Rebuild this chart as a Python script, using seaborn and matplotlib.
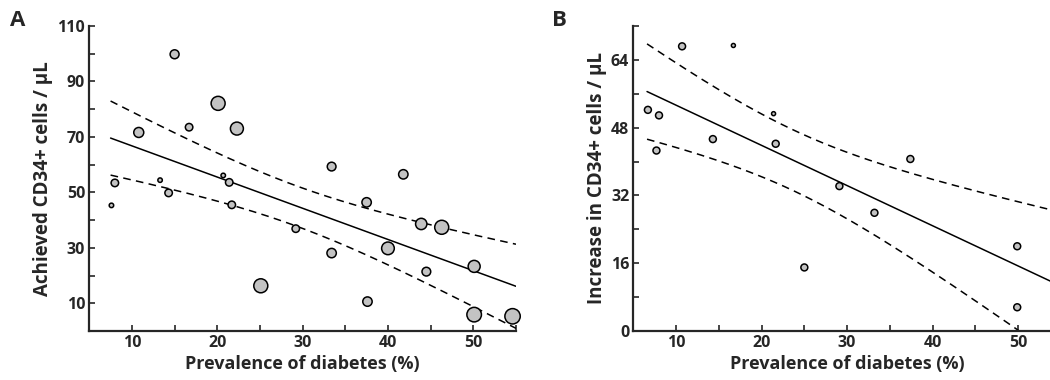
import numpy as np
import pandas as pd
import seaborn as sns
import matplotlib
matplotlib.use("Agg")
import matplotlib.pyplot as plt

# ---------------- data ----------------
# Panel A: prevalence of diabetes (%) vs achieved CD34+ cells / uL, weight = study size
a_prev = [15.0, 20.1, 22.3, 16.7, 10.8, 8.0, 13.3, 14.3, 20.7, 21.4, 7.6, 21.7, 29.2,
          33.4, 33.4, 25.1, 37.5, 37.6, 41.8, 43.9, 46.3, 40.0, 44.5, 50.1, 50.1, 54.6]
a_cd34 = [99.8, 82.1, 73.0, 73.5, 71.6, 53.4, 54.4, 49.8, 56.1, 53.6, 45.3, 45.5, 36.9,
          59.3, 28.1, 16.3, 46.4, 10.6, 56.5, 38.6, 37.4, 29.8, 21.4, 23.3, 5.9, 5.3]
a_weight = [20, 49, 42, 14, 25, 14, 5, 14, 5, 14, 5, 14, 14,
            19, 22, 49, 22, 22, 22, 32, 49, 40, 19, 36, 53, 59]

# Panel B: prevalence of diabetes (%) vs increase in CD34+ cells / uL
b_prev = [10.7, 16.7, 6.7, 8.0, 7.7, 14.3, 21.4, 21.65, 37.4, 29.1, 33.2, 25.0, 49.9, 49.9]
b_incr = [67.2, 67.4, 52.2, 50.9, 42.6, 45.3, 51.3, 44.2, 40.6, 34.2, 27.9, 15.0, 20.0, 5.6]
b_weight = [12, 4, 12, 12, 12, 12, 4, 12, 12, 12, 12, 12, 12, 12]

a_yticks = [10, 30, 50, 70, 90, 110]
b_yticks = [0, 16, 32, 48, 64]
x_ticks = [10, 20, 30, 40, 50]

T95 = {24: 2.064, 12: 2.179}  # two-sided 95% t quantiles

# ---------------- style ----------------
sns.set_style("ticks")
plt.rcParams["font.family"] = ["Open Sans", "DejaVu Sans"]
plt.rcParams["font.weight"] = "bold"
plt.rcParams["axes.labelweight"] = "bold"

fig = plt.figure(figsize=(10.5, 3.8), dpi=100)
axA = fig.add_axes([0.085, 0.129, 0.4064, 0.8026])
axB = fig.add_axes([0.6032, 0.129, 0.4071, 0.8026])


def fit_lines(ax, x, y, xmax):
    x = np.asarray(x, float)
    y = np.asarray(y, float)
    n = len(x)
    b1, b0 = np.polyfit(x, y, 1)
    resid = y - (b0 + b1 * x)
    s = np.sqrt(np.sum(resid ** 2) / (n - 2))
    sxx = np.sum((x - x.mean()) ** 2)
    xs = np.linspace(x.min() - 0.1, xmax, 200)
    yh = b0 + b1 * xs
    half = T95[n - 2] * s * np.sqrt(1.0 / n + (xs - x.mean()) ** 2 / sxx)
    ax.plot(xs, yh, color="black", lw=1.1, zorder=2)
    ax.plot(xs, yh + half, color="black", lw=1.1, ls=(0, (5, 3.5)), zorder=2)
    ax.plot(xs, yh - half, color="black", lw=1.1, ls=(0, (5, 3.5)), zorder=2)


def style_axis(ax, ylim, yticks, ymajor_step, ylabel):
    ax.set_xlim(5, 55)
    ax.set_ylim(*ylim)
    ax.set_xticks(np.arange(5, 56, 5), minor=True)
    ax.set_xticks(x_ticks)
    ax.set_yticks(np.arange(ylim[0], ylim[1] + 0.01, ymajor_step), minor=True)
    ax.set_yticks(yticks)
    for sp in ["top", "right"]:
        ax.spines[sp].set_visible(False)
    for sp in ["left", "bottom"]:
        ax.spines[sp].set_linewidth(1.6)
    ax.tick_params(which="both", direction="in", width=1.2, length=4, labelsize=11.5, pad=3)
    ax.set_xlabel("Prevalence of diabetes (%)", fontsize=13, fontweight="bold", labelpad=3)
    ax.set_ylabel(ylabel, fontsize=13.5, fontweight="bold", labelpad=3)
    for lab in ax.get_xticklabels() + ax.get_yticklabels():
        lab.set_fontweight("bold")


dfA = pd.DataFrame({"prev": a_prev, "cd34": a_cd34, "w": a_weight})
dfB = pd.DataFrame({"prev": b_prev, "incr": b_incr, "w": b_weight})

fit_lines(axA, a_prev, a_cd34, 55)
sns.scatterplot(data=dfA, x="prev", y="cd34", size="w", sizes=(0, 124.5), size_norm=(0, 60),
                color="#c3c3c3", edgecolor="black", linewidth=1.1, legend=False, ax=axA,
                zorder=3, clip_on=False)
style_axis(axA, (0, 110), a_yticks, 10, "Achieved CD34+ cells / µL")

fit_lines(axB, b_prev, b_incr, 55)
sns.scatterplot(data=dfB, x="prev", y="incr", size="w", sizes=(0, 124.5), size_norm=(0, 60),
                color="#c3c3c3", edgecolor="black", linewidth=1.1, legend=False, ax=axB,
                zorder=3, clip_on=False)
style_axis(axB, (0, 72), b_yticks, 8, "Increase in CD34+ cells / µL")

fig.text(0.010, 0.945, "A", fontsize=16, fontweight="bold", ha="left", va="center")
fig.text(0.526, 0.945, "B", fontsize=16, fontweight="bold", ha="left", va="center")

fig.savefig("out.png", dpi=100)
